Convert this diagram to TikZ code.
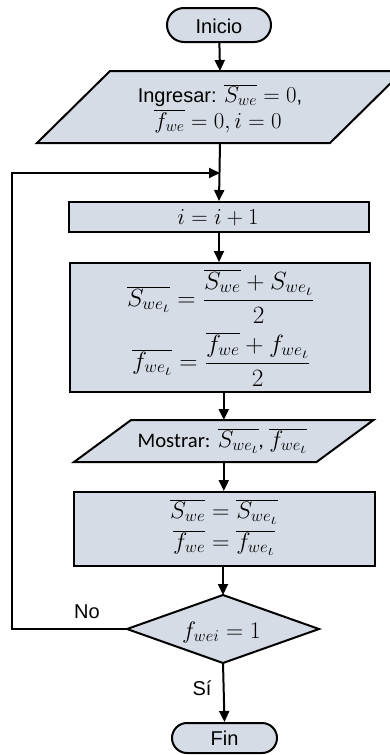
\documentclass[tikz,border=0pt]{standalone}
\usepackage{graphicx}
\usepackage{fontspec}
\setmainfont{Liberation Sans}
\newfontfamily\calib{Carlito}
\usetikzlibrary{arrows.meta,backgrounds}
\definecolor{boxfill}{HTML}{D6DCE5}
\newcommand\mth[3][1.15]{\scalebox{#1}[#2]{$#3$}}
\newcommand\subi{{\scriptstyle\iota}}
\begin{document}
\begin{tikzpicture}[x=1pt,y=-1pt, line width=2pt,
  shp/.style={draw=black, fill=boxfill, line width=2pt, line join=miter, inner sep=0pt},
  box/.style={inner sep=0pt},
  txt/.style={font=\fontsize{20}{26}\selectfont, inner sep=0pt, anchor=base},
  arr/.style={line width=2pt, -{Triangle[length=11pt,width=10pt]}},
  lbl/.style={font=\fontsize{20}{24}\selectfont, inner sep=0pt, anchor=base}]
\useasboundingbox (0,0) rectangle (390,755);
% shapes
\node[shp, rounded corners=17pt, minimum width=104pt, minimum height=34pt] (start) at (219,25) {};
\node[box, minimum width=291pt, minimum height=70pt] (ing) at (220,107) {};
\node[shp, minimum width=300pt, minimum height=30pt] (inc) at (219,217) {};
\node[shp, minimum width=300pt, minimum height=129pt] (calc) at (220,327.5) {};
\node[box, minimum width=240.5pt, minimum height=40pt] (show) at (223.8,441) {};
\node[shp, minimum width=301pt, minimum height=74pt] (upd) at (224.5,529) {};
\node[box, minimum width=190pt, minimum height=66pt] (dec) at (223,629) {};
\node[shp, rounded corners=15pt, minimum width=105pt, minimum height=30pt] (fin) at (224.5,738) {};
\begin{scope}[on background layer]
  \draw[shp] ([xshift=36.5pt]ing.north west) -- ([xshift=36.5pt]ing.north east)
    -- ([xshift=-36.5pt]ing.south east) -- ([xshift=-36.5pt]ing.south west) -- cycle;
  \draw[shp] ([xshift=28.5pt]show.north west) -- ([xshift=28.5pt]show.north east)
    -- ([xshift=-28.5pt]show.south east) -- ([xshift=-28.5pt]show.south west) -- cycle;
  \draw[shp] (dec.west) -- (dec.north) -- (dec.east) -- (dec.south) -- cycle;
\end{scope}
% texts
\node[txt] (tstart) at (219,33) {Inicio};
\node[txt] (ting1) at (220,102) {Ingresar: \mth[1.1]{1.1}{\overline{S_{we}} = 0},};
\node[txt] (ting2) at (218,128) {\mth[1.1]{1.1}{\overline{f_{we}} = 0, i = 0}};
\node[txt] (tinc) at (218,224) {\mth[1.1]{1.1}{i = i + 1}};
\node[txt] (tcalc1) at (221,306) {\mth[1.22]{1.2}{\displaystyle \overline{S_{we_\subi}} = \frac{\overline{S_{we}} + S_{we_\subi}}{2}}};
\node[txt] (tcalc2) at (221.5,369) {\mth[1.22]{1.2}{\displaystyle \overline{f_{we_\subi}} = \frac{\overline{f_{we}} + f_{we_\subi}}{2}}};
\node[txt] (tshow) at (222.5,447) {{\calib\fontsize{20.7}{24}\selectfont Mostrar:} \mth[1.15]{1.15}{\overline{S_{we_\subi}}}{\calib\fontsize{20.7}{24}\selectfont ,} \mth[1.15]{1.15}{\overline{f_{we_\subi}}}};
\node[txt] (tupd1) at (224,518) {\mth[1.17]{1.15}{\overline{S_{we}} = \overline{S_{we_\subi}}}};
\node[txt] (tupd2) at (224,549) {\mth[1.17]{1.15}{\overline{f_{we}} = \overline{f_{we_\subi}}}};
\node[txt] (tdec) at (221.5,638) {\mth[1.15]{1.15}{f_{wei} = 1}};
\node[txt] (tfin) at (224.5,745) {Fin};
% connectors
\coordinate (join) at (220,173);
\coordinate (lx) at (12,173);
\draw[arr] (start) -- (ing.north);
\draw[arr] (ing.south) -- (inc.north);
\draw[arr] (inc.south) -- (inc.south |- calc.north);
\draw[arr] (show.north |- calc.south) -- (show.north);
\draw[arr] (show.south) -- (show.south |- upd.north);
\draw[arr] (dec.north |- upd.south) -- (dec.north);
\draw[arr] (dec.south) -- (fin.north);
\draw[arr] (dec.west) -| (lx) -- (join);
% labels
\node[lbl] (no) at (87,618) {No};
\node[lbl] (si) at (202,695) {Sí};
\end{tikzpicture}
\end{document}
